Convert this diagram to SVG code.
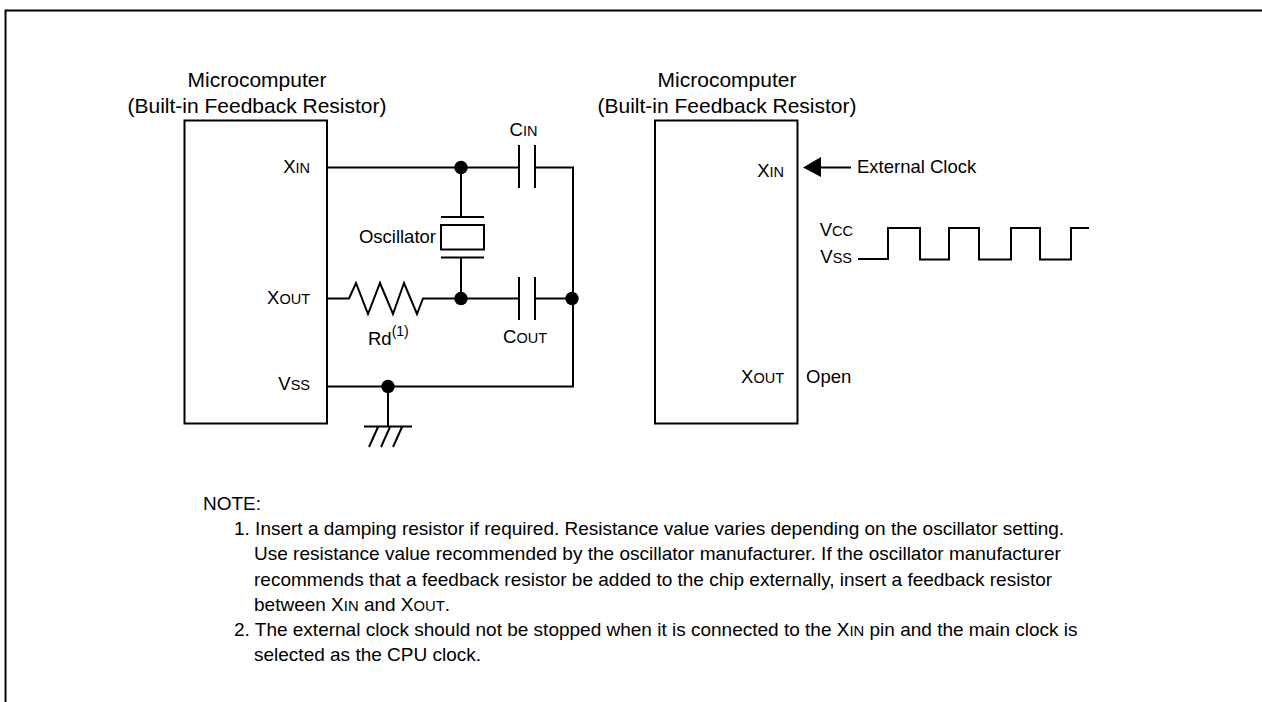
<svg xmlns="http://www.w3.org/2000/svg" width="1262" height="702" viewBox="0 0 1262 702">
<style>
text{font-family:"Liberation Sans",Arial,sans-serif;font-size:18.5px;fill:#000}
.t{font-size:21px}
.s{font-size:14.5px}
.n{font-size:19px}
.n .s{font-size:14.8px}
.w{fill:none;stroke:#000;stroke-width:2}
.d{fill:#000;stroke:none}
.m{text-anchor:middle}
.e{text-anchor:end}
</style>
<rect width="1262" height="702" fill="#fff"/>
<path class="w" d="M5.500 702V10.500H1262"/>
<path d="M4.500 702V10" fill="none" stroke="#888" stroke-width="1"/>
<g id="mcu1"><rect class="w" x="184.500" y="120.500" width="142.500" height="303"/>
<text class="m t" x="257" y="87">Microcomputer</text><text class="m t" x="257" y="113">(Built-in Feedback Resistor)</text>
<text class="e" x="310" y="173">X<tspan class="s">IN</tspan></text>
<text class="e" x="310" y="304">X<tspan class="s">OUT</tspan></text>
<text class="e" x="310" y="390">V<tspan class="s">SS</tspan></text></g>
<g id="mcu2"><rect class="w" x="655" y="120.500" width="142.500" height="303"/>
<text class="m t" x="727" y="87">Microcomputer</text><text class="m t" x="727" y="113">(Built-in Feedback Resistor)</text>
<text class="e" x="784" y="177">X<tspan class="s">IN</tspan></text>
<text class="e" x="784" y="383">X<tspan class="s">OUT</tspan></text>
<text x="806" y="383">Open</text></g>
<g id="connectors">
<path class="w" d="M327 167.500H519M535 167.500H573V386.500H327M461 167V217M461 258V298M327 298.500H349L356 283L368 314L380 283L393 314L404 283L417 314L423 298.500H519M535 298.500H573M388 387V426"/>
<path class="w" d="M519 145V188M535 145V188M519 277V320M535 277V320"/>
<path class="w" d="M364 426.500H412M369 447L378 427M381 447L390 427M393 447L402 427"/>
<path class="w" d="M851 167.500H818"/><path class="d" d="M803 167.500L821 157V177Z"/>
<path class="w" d="M858 259H888V228H920V259.500H949V228H979V259.500H1011V228H1040V259.500H1071V228H1089"/>
<circle class="d" cx="461" cy="167.500" r="6.700"/><circle class="d" cx="461" cy="298.500" r="6.700"/><circle class="d" cx="572" cy="298.500" r="6.700"/><circle class="d" cx="388" cy="386.500" r="6.700"/>
</g>
<g id="oscillator"><path class="w" d="M441 217H484M441 257.500H484"/><rect class="w" x="441" y="225" width="43" height="24.500" fill="#fff"/><text class="e" x="436" y="243" font-size="19">Oscillator</text></g>
<g id="labels">
<text class="m" x="523.500" y="136">C<tspan class="s">IN</tspan></text>
<text class="m" x="525" y="343">C<tspan class="s">OUT</tspan></text>
<text x="368" y="345">Rd<tspan dy="-9" font-size="14">(1)</tspan></text>
<text x="857" y="173">External Clock</text>
<text class="e" x="853" y="236">V<tspan class="s">CC</tspan></text>
<text class="e" x="852" y="263">V<tspan class="s">SS</tspan></text>
</g>
<g id="note">
<text class="n" x="203" y="510">NOTE:</text>
<text class="n" x="234" y="535">1. Insert a damping resistor if required. Resistance value varies depending on the oscillator setting.</text>
<text class="n" x="254" y="560">Use resistance value recommended by the oscillator manufacturer. If the oscillator manufacturer</text>
<text class="n" x="254" y="586">recommends that a feedback resistor be added to the chip externally, insert a feedback resistor</text>
<text class="n" x="254" y="611">between X<tspan class="s">IN</tspan> and X<tspan class="s">OUT</tspan>.</text>
<text class="n" x="234" y="636">2. The external clock should not be stopped when it is connected to the X<tspan class="s">IN</tspan> pin and the main clock is</text>
<text class="n" x="254" y="661">selected as the CPU clock.</text>
</g>
</svg>
